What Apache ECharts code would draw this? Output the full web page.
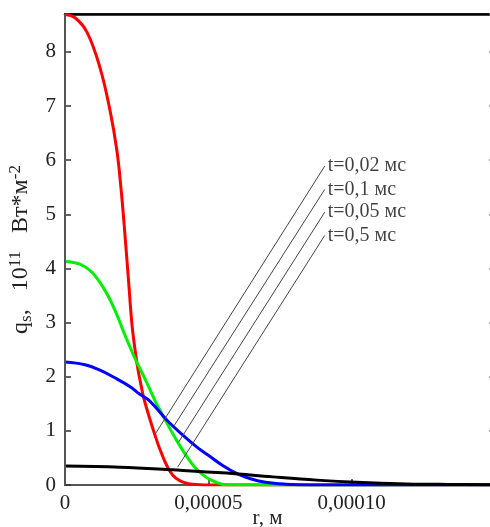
<!DOCTYPE html>
<html>
<head>
<meta charset="utf-8">
<script src="https://cdn.jsdelivr.net/npm/echarts@6/dist/echarts.min.js"></script>
<style>
html,body{margin:0;padding:0;background:#fff;}
#chart{width:490px;height:527px;}
</style>
</head>
<body>
<div id="chart"></div>
<script>
// r in micrometres (axis labels shown in metres), q in 10^11 W/m^2
const redR   = [0, 3.5, 7.7, 12.2, 15.7, 18.1, 19.5, 20.8, 22.2, 23.3, 24.3, 25.4, 26.5, 27.5, 29.6, 31.4, 33.1, 35.5, 37.6, 40, 43, 47, 50.5, 150];
const redQ   = [8.69, 8.63, 8.36, 7.71, 6.92, 6.18, 5.5, 4.7, 3.75, 3.0, 2.55, 2.15, 1.85, 1.6, 1.22, 0.92, 0.66, 0.36, 0.18, 0.08, 0.025, 0.005, 0, 0];
const greenR = [0, 5.2, 9.4, 13.9, 17.4, 20.9, 24.4, 27.9, 31.4, 34.8, 38.3, 41.8, 45.3, 48.8, 52.3, 56.8, 150];
const greenQ = [4.13, 4.08, 3.93, 3.6, 3.23, 2.77, 2.34, 1.96, 1.56, 1.22, 0.88, 0.58, 0.33, 0.16, 0.06, 0, 0];
const blueR  = [0, 7, 12.2, 17.4, 22.6, 26, 29.6, 35.5, 41.1, 46, 50, 55, 60, 65, 70, 77, 85, 150];
const blueQ  = [2.27, 2.22, 2.12, 1.98, 1.82, 1.68, 1.55, 1.2, 0.92, 0.7, 0.55, 0.36, 0.21, 0.11, 0.05, 0.015, 0, 0];
const blackR = [0, 19.2, 37.6, 56.4, 72.5, 87.8, 101.7, 119.2, 134, 150];
const blackQ = [0.35, 0.33, 0.28, 0.22, 0.15, 0.09, 0.05, 0.02, 0.01, 0.005];

// leader lines and their labels
const leaderLabels = ['t=0,02 мс', 't=0,1 мс', 't=0,05 мс', 't=0,5 мс'];
const leaderTopR = [90.6, 90.6, 90.6, 90.6];
const leaderTopQ = [5.89, 5.46, 5.04, 4.61];
const leaderBotR = [31.7, 38.0, 39.6, 39.3];
const leaderBotQ = [0.96, 1.09, 0.79, 0.33];

const xTicks = {min: 0, max: 150, interval: 50};   // micrometres
const yTicks = {min: 0, max: 8.7, interval: 1};

const pts = (R, Q) => R.map((r, i) => [r, Q[i]]);
const serif = 'Liberation Serif, DejaVu Serif, serif';

const curve = (data, color) => ({
  type: 'line', data, showSymbol: false, symbol: 'none',
  smooth: 0.4,
  lineStyle: {color, width: 3}, z: 3, silent: true
});

const series = [
  curve(pts(redR, redQ), '#ff0000'),
  curve(pts(greenR, greenQ), '#00ee00'),
  curve(pts(blueR, blueQ), '#0000ff'),
  curve(pts(blackR, blackQ), '#000000')
];
// left frame line at r = 0
series.push({
  type: 'line', data: [], silent: true, z: 6,
  markLine: {silent: true, symbol: 'none', label: {show: false},
    lineStyle: {color: '#555', width: 2, type: 'solid'},
    data: [{xAxis: xTicks.min}]}
});
leaderLabels.forEach((lab, i) => {
  series.push({
    type: 'line', symbol: 'none', silent: true, z: 4,
    data: [[leaderBotR[i], leaderBotQ[i]], [leaderTopR[i], leaderTopQ[i]]],
    lineStyle: {color: '#444', width: 1}
  });
  series.push({
    type: 'scatter', symbolSize: 0, silent: true, z: 5,
    data: [[leaderTopR[i], leaderTopQ[i]]],
    label: {show: true, position: 'right', distance: 3, formatter: lab,
      fontFamily: serif, fontSize: 20, color: '#111'}
  });
});

const chart = echarts.init(document.getElementById('chart'));
chart.setOption({
  animation: false,
  backgroundColor: '#fff',
  grid: {left: 65, right: -5, top: 14, bottom: 42, containLabel: false, outerBoundsMode: 'none',
    show: true, borderColor: '#555', borderWidth: 2, backgroundColor: 'transparent'},
  xAxis: [{
    type: 'value', position: 'bottom',
    min: xTicks.min, max: xTicks.max, interval: xTicks.interval,
    axisLine: {show: true, onZero: false, lineStyle: {color: '#555', width: 2}},
    axisTick: {show: true, inside: true, length: 6, lineStyle: {color: '#333', width: 1.5}},
    splitLine: {show: false},
    axisLabel: {showMaxLabel: false, margin: 8, fontFamily: serif, fontSize: 21, color: '#222',
      formatter: v => v === 0 ? '0' : (v * 1e-6).toFixed(5).replace('.', ',')},
    name: 'r, м', nameLocation: 'middle', nameGap: 23, nameMoveOverlap: false,
    nameTextStyle: {fontFamily: serif, fontSize: 21, color: '#222', padding: [0, 25, 0, 0]}
  }, {
    type: 'value', position: 'top',
    min: xTicks.min, max: xTicks.max, interval: xTicks.interval,
    axisLine: {show: true, onZero: false, lineStyle: {color: '#000', width: 2.5}},
    axisTick: {show: false}, axisLabel: {show: false}, splitLine: {show: false}
  }],
  yAxis: [{
    type: 'value', position: 'left',
    min: yTicks.min, max: yTicks.max, interval: yTicks.interval,
    axisLine: {show: true, onZero: false, lineStyle: {color: '#555', width: 2}},
    axisTick: {show: true, inside: true, length: 6, lineStyle: {color: '#333', width: 1.5}},
    splitLine: {show: false},
    axisLabel: {showMaxLabel: false, margin: 9, fontFamily: serif, fontSize: 21, color: '#222'},
    name: '{n|q}{sub|s}{n|,   10}{sup|11}{n|   Вт*м}{sup|-2}',
    nameLocation: 'middle', nameRotate: 90, nameGap: 30, nameMoveOverlap: false,
    nameTextStyle: {
      fontFamily: serif, fontSize: 24, color: '#222',
      rich: {
        n: {fontFamily: serif, fontSize: 24, color: '#222', lineHeight: 28, verticalAlign: 'middle'},
        sub: {fontFamily: serif, fontSize: 17, color: '#222', verticalAlign: 'bottom'},
        sup: {fontFamily: serif, fontSize: 17, color: '#222', verticalAlign: 'top'}
      }
    }
  }, {
    type: 'value', position: 'right',
    min: yTicks.min, max: yTicks.max, interval: yTicks.interval,
    axisLine: {show: true, onZero: false, lineStyle: {color: '#555', width: 2}},
    axisTick: {show: true, inside: true, length: 6, lineStyle: {color: '#888', width: 1.5}},
    axisLabel: {show: false}, splitLine: {show: false}
  }],
  series
});
</script>
</body>
</html>
